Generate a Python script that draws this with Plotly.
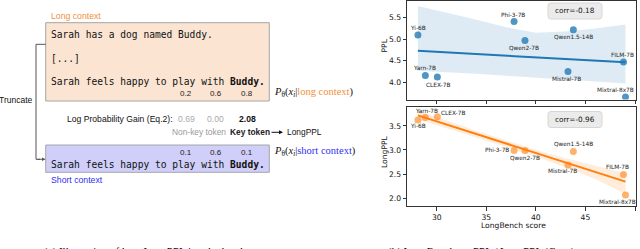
import plotly.graph_objects as go
import numpy as np

# ---------------- data ----------------
models = ["Yi-6B", "Yarn-7B", "CLEX-7B", "Phi-3-7B", "Qwen2-7B",
          "Qwen1.5-14B", "Mistral-7B", "FILM-7B", "Mixtral-8x7B"]
longbench = [28.1, 28.85, 30.06, 37.8, 38.9, 43.78, 43.24, 48.84, 49.04]
ppl = [5.10, 4.16, 4.12, 5.41, 4.97, 5.22, 4.25, 4.47, 3.66]
longppl = [3.62, 3.67, 3.69, 2.99, 2.99, 2.97, 2.69, 2.49, 2.07]
corr_ppl_text = "corr=-0.18"
corr_longppl_text = "corr=-0.96"

band_x = [28.1, 31, 34, 37, 40, 43, 46, 49.04]
ppl_band_hi = [5.77, 5.62, 5.45, 5.28, 5.15, 5.18, 5.25, 5.34]
ppl_band_lo = [4.27, 4.24, 4.20, 4.15, 4.10, 4.06, 4.02, 3.97]
longppl_band_hi = [3.82, 3.61, 3.40, 3.20, 3.00, 2.83, 2.67, 2.52]
longppl_band_lo = [3.63, 3.45, 3.26, 3.06, 2.86, 2.64, 2.40, 2.09]

x_ticks = [30, 35, 40, 45, 50]
ppl_ticks = [4.0, 4.5, 5.0, 5.5]
longppl_ticks = [2.0, 2.5, 3.0, 3.5]

probs_long = ["0.2", "0.6", "0.8"]
probs_short = ["0.1", "0.6", "0.1"]
gains = ["0.69", "0.00", "2.08"]

# label offsets (pixels) for model names
ppl_label_off = {"Yi-6B": (0, 7), "Yarn-7B": (-1, 7), "CLEX-7B": (1, -8),
                 "Phi-3-7B": (-1, 7), "Qwen2-7B": (-1, -7), "Qwen1.5-14B": (0, -7),
                 "Mistral-7B": (-1, -7), "FILM-7B": (-1, 7.5), "Mixtral-8x7B": (-10, 7)}
lppl_label_off = {"Yi-6B": (0, -6), "Yarn-7B": (1, 7), "CLEX-7B": (16, 4),
                  "Phi-3-7B": (-17, 0), "Qwen2-7B": (0, -7.5), "Qwen1.5-14B": (0, 7.5),
                  "Mistral-7B": (-5, -6), "FILM-7B": (-6, 8), "Mixtral-8x7B": (-8, -7)}

W, H = 640, 249
BLUE = "#1f77b4"
ORANGE = "#ff7f0e"


def px(x):
    return x / W


def py(y):
    return 1 - y / H


fig = go.Figure()

# ---------------- scatter / regression panels ----------------
def add_panel(yvals, hi, lo, color, fill, mcolor, xa, ya):
    fig.add_trace(go.Scatter(x=band_x + band_x[::-1], y=hi + lo[::-1], fill="toself",
                             fillcolor=fill, line=dict(width=0), mode="lines",
                             hoverinfo="skip", showlegend=False, xaxis=xa, yaxis=ya))
    k, b = np.polyfit(longbench, yvals, 1)
    xs = [min(longbench), max(longbench)]
    fig.add_trace(go.Scatter(x=xs, y=[k * v + b for v in xs], mode="lines",
                             line=dict(color=color, width=2), showlegend=False,
                             xaxis=xa, yaxis=ya))
    fig.add_trace(go.Scatter(x=longbench, y=yvals, mode="markers",
                             marker=dict(color=mcolor, size=7), showlegend=False,
                             xaxis=xa, yaxis=ya))


add_panel(ppl, ppl_band_hi, ppl_band_lo, BLUE, "rgba(31,119,180,0.15)",
          "rgba(31,119,180,0.78)", "x", "y")
add_panel(longppl, longppl_band_hi, longppl_band_lo, ORANGE, "rgba(255,127,14,0.15)",
          "rgba(255,127,14,0.6)", "x2", "y2")

ann = []
for m, xv, yv in zip(models, longbench, ppl):
    dx, dy = ppl_label_off[m]
    ann.append(dict(x=xv, y=yv, xref="x", yref="y", text=m, showarrow=False,
                    xanchor="center", yanchor="middle",
                    xshift=dx, yshift=dy, font=dict(size=5.8, color="#222")))
for m, xv, yv in zip(models, longbench, longppl):
    dx, dy = lppl_label_off[m]
    ann.append(dict(x=xv, y=yv, xref="x2", yref="y2", text=m, showarrow=False,
                    xanchor="center", yanchor="middle",
                    xshift=dx, yshift=dy, font=dict(size=5.8, color="#222")))

shapes = []


def rrect(x0, y0, x1, y1, r, fillc, linec):
    # rounded rect in pixel coordinates -> paper path
    rx, ry = r / W, r / H
    X0, X1, Y0, Y1 = px(x0), px(x1), py(y1), py(y0)
    path = (f"M {X0+rx},{Y0} L {X1-rx},{Y0} Q {X1},{Y0} {X1},{Y0+ry} "
            f"L {X1},{Y1-ry} Q {X1},{Y1} {X1-rx},{Y1} L {X0+rx},{Y1} "
            f"Q {X0},{Y1} {X0},{Y1-ry} L {X0},{Y0+ry} Q {X0},{Y0} {X0+rx},{Y0} Z")
    shapes.append(dict(type="path", path=path, xref="paper", yref="paper",
                       fillcolor=fillc, line=dict(color=linec, width=1)))


def ctext(x, y, t, size, angle=0):
    ann.append(dict(x=px(x), y=py(y), xref="paper", yref="paper", text=t,
                    textangle=angle, showarrow=False, xanchor="center",
                    yanchor="middle", font=dict(size=size, color="#111")))


rrect(548, 3, 602, 19, 3, "#ebebeb", "#d6d6d6")
rrect(548, 111.5, 602, 127.5, 3, "#ebebeb", "#d6d6d6")
ctext(575, 11, corr_ppl_text, 7.3)
ctext(575, 119.5, corr_longppl_text, 7.3)

# axis titles
ctext(384, 45.5, "PPL", 7.6, -90)
ctext(384, 152, "LongPPL", 7.6, -90)
ctext(513, 225, "LongBench score", 7.6)

# ---------------- left illustration ----------------
MONO = "DejaVu Sans Mono"
SANS = "Liberation Sans"
SERIF = "Liberation Serif"
ORANGE_T = "#f0903c"
BLUE_T = "#2f2ff2"

shapes.append(dict(type="rect", xref="paper", yref="paper", x0=px(45.7), x1=px(269.3),
                   y0=py(101), y1=py(22.7), fillcolor="#fbe4d2",
                   line=dict(color="#a6a6a6", width=1), layer="below"))
shapes.append(dict(type="rect", xref="paper", yref="paper", x0=px(45.7), x1=px(269.3),
                   y0=py(172.3), y1=py(145), fillcolor="#cfcff9",
                   line=dict(color="#a6a6a6", width=1), layer="below"))
# truncate bracket
shapes.append(dict(type="path", xref="paper", yref="paper",
                   path=f"M {px(45.7)},{py(44.3)} L {px(36)},{py(44.3)} L {px(36)},{py(159.3)} L {px(40)},{py(159.3)}",
                   line=dict(color="#555", width=1)))
ann.append(dict(x=px(45.5), y=py(159.3), xref="paper", yref="paper", text="",
                showarrow=True, ax=-9.5, ay=0, arrowhead=2, arrowsize=0.7,
                arrowwidth=1, arrowcolor="#555"))


def txt(x, y, t, family, size, color="#111", anchor="left"):
    ann.append(dict(x=px(x), y=py(y), xref="paper", yref="paper", text=t,
                    showarrow=False, xanchor=anchor, yanchor="middle",
                    font=dict(family=family, size=size, color=color)))


txt(48.5, 15.7, "Long context", SANS, 8.7, ORANGE_T)
txt(49, 34.3, "Sarah has a dog named Buddy.", MONO, 9.6)
txt(49, 58.3, "[...]", MONO, 9.6)
txt(49, 81.7, "Sarah feels happy to play with <b>Buddy.</b>", MONO, 9.6)
for cx, t in zip([186, 215.7, 247.3], probs_long):
    txt(cx, 93.3, t, SANS, 8, "#222", "center")
txt(272, 92.3, "<i>P</i><sub>θ</sub>(<i>x<sub>i</sub></i>|<span style='color:%s'>long context</span>)" % ORANGE_T,
    SERIF, 10.5, "#111")

txt(34.5, 100, "Truncate", SANS, 8.5, "#111", "right")

txt(64.5, 119, "Log Probability Gain (Eq.2):", SANS, 8.6, "#111")
for cx, t, col in zip([186, 215.7, 247.3], gains, ["#aaaaaa", "#aaaaaa", "#111"]):
    txt(cx, 119, ("<b>%s</b>" % t) if col == "#111" else t, SANS, 8.6, col, "center")

txt(170, 132.3, "Non-key token", SANS, 8.4, "#9a9a9a")
txt(227.5, 132.3, "<b>Key token</b>", SANS, 8.4, "#222")
ann.append(dict(x=px(283), y=py(132.3), xref="paper", yref="paper", text="",
                showarrow=True, ax=-13, ay=0, arrowhead=2, arrowsize=0.8,
                arrowwidth=1, arrowcolor="#111"))
txt(285, 132.3, "LongPPL", SANS, 8.4, "#111")

for cx, t in zip([186, 215.7, 247.3], probs_short):
    txt(cx, 152.3, t, SANS, 8, "#222", "center")
txt(49, 164, "Sarah feels happy to play with <b>Buddy.</b>", MONO, 9.6)
txt(48.5, 179.7, "Short context", SANS, 8.7, BLUE_T)
txt(272, 151.7, "<i>P</i><sub>θ</sub>(<i>x<sub>i</sub></i>|<span style='color:%s'>short context</span>)" % BLUE_T,
    SERIF, 10.5, "#111")

# captions (partially cut at bottom in reference)
ann.append(dict(x=px(42), y=py(243), xref="paper", yref="paper", xanchor="left",
                yanchor="top", showarrow=False,
                text="(a) Illustration of how LongPPL is calculated.",
                font=dict(family=SERIF, size=11, color="#000")))
ann.append(dict(x=px(386), y=py(243), xref="paper", yref="paper", xanchor="left",
                yanchor="top", showarrow=False,
                text="(b) LongBench vs. PPL / LongPPL (Corr.)",
                font=dict(family=SERIF, size=11, color="#000")))

axis_common = dict(showline=True, mirror=True, linecolor="#333", linewidth=1,
                   showgrid=False, zeroline=False, ticks="outside", ticklen=3.5,
                   tickwidth=0.8, tickcolor="#333",
                   tickfont=dict(size=7.6, color="#111"))
xdom = [px(407), px(636)]

fig.update_layout(
    width=W, height=H, margin=dict(l=0, r=0, t=0, b=0),
    paper_bgcolor="white", plot_bgcolor="white",
    font=dict(family="DejaVu Sans"),
    xaxis=dict(domain=xdom, anchor="y", range=[27, 50.1], tickvals=x_ticks,
               showticklabels=False, **axis_common),
    yaxis=dict(domain=[py(99.5), py(0.5)], anchor="x", range=[3.6, 5.9],
               tickvals=ppl_ticks, tickformat=".1f", **axis_common),
    xaxis2=dict(domain=xdom, anchor="y2", range=[27, 50.1], tickvals=x_ticks,
                **axis_common),
    yaxis2=dict(domain=[py(206), py(107)], anchor="x2", range=[1.84, 3.89],
                tickvals=longppl_ticks, tickformat=".1f", **axis_common),
    annotations=ann, shapes=shapes,
)

fig.write_html("out.html", config={"displayModeBar": False},
               post_script="document.body.style.margin='0';document.body.style.padding='0';document.body.style.overflow='hidden';")
